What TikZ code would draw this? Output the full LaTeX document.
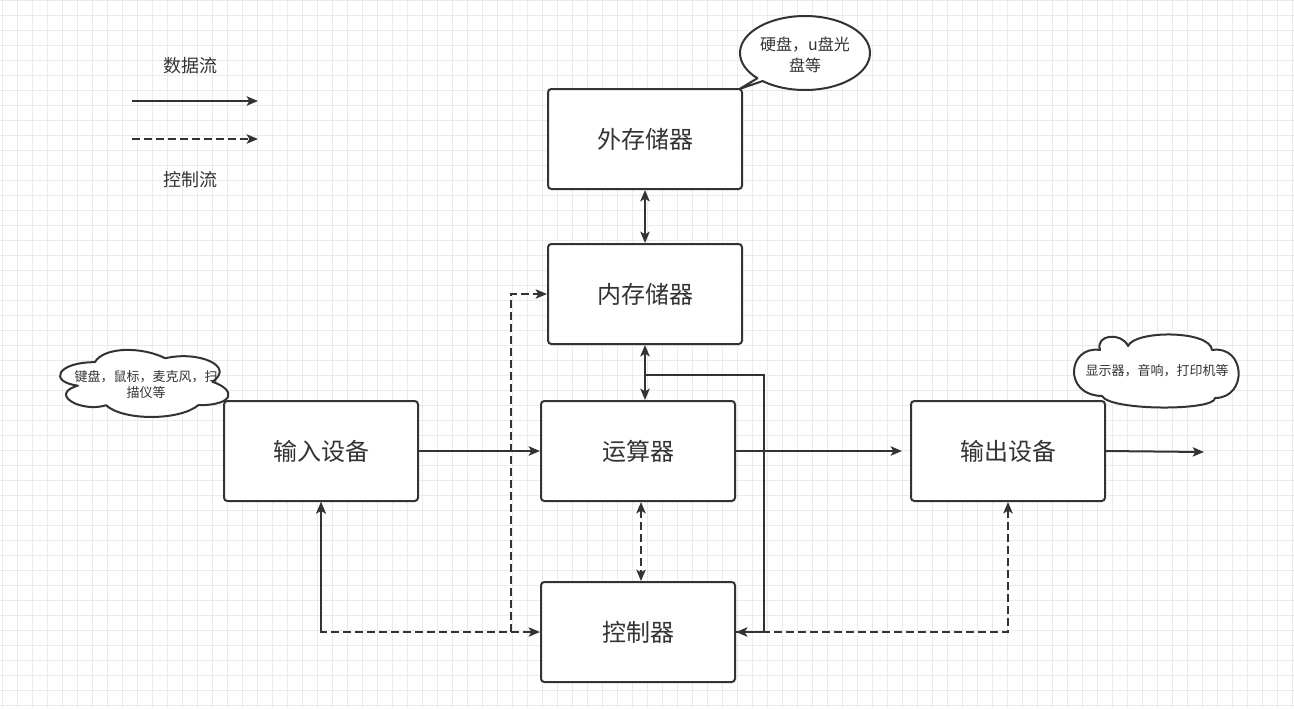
\documentclass[tikz,border=0pt]{standalone}
\usepackage{fontspec}
\newfontfamily\cjk{Noto Sans CJK SC}
\usetikzlibrary{arrows.meta,calc}
\definecolor{ln}{HTML}{333333}
\definecolor{gridc}{HTML}{EBEBEB}
\tikzset{
  x=0.75pt, y=-0.75pt,
  arrowtip/.tip={Stealth[length=8.5pt,width=7pt,inset=2pt]},
  box/.style={draw=ln, line width=1.5pt, rounded corners=2.5pt, fill=white,
    minimum width=145.5pt, minimum height=75pt, inner sep=0pt,
    font=\cjk\fontsize{18}{22}\selectfont, text=ln},
  conn/.style={draw=ln, line width=1.5pt},
  arr/.style={-{arrowtip}},
  darr/.style={{arrowtip}-{arrowtip}},
  dsh/.style={dash pattern=on 6pt off 3pt},
  lbl/.style={font=\cjk\fontsize{13.5}{16}\selectfont, text=ln, inner sep=0pt},
  cloudtxt/.style={font=\cjk\fontsize{9.75}{12}\selectfont, text=ln, inner sep=0pt, align=center},
  bubtxt/.style={font=\cjk\fontsize{12}{15.75}\selectfont, text=ln, inner sep=0pt, align=center},
  shapeline/.style={draw=ln, line width=1.5pt, fill=white, line join=round},
}
\begin{document}
\begin{tikzpicture}
\useasboundingbox (0,0) rectangle (1294,708);
\fill[white] (0,0) rectangle (1294,708);
\foreach \gx in {2.5,17.5,...,1294} \draw[gridc, line width=0.75pt] (\gx,0) -- (\gx,708);
\foreach \gy in {0.5,15.5,...,708} \draw[gridc, line width=0.75pt] (0,\gy) -- (1294,\gy);

% legend
\node[lbl] (t1) at (190,66) {数据流};
\coordinate (la) at (132,101);
\coordinate (lb) at (258,101);
\draw[conn,arr] (la) -- (lb);
\coordinate (lc) at (132,139);
\coordinate (ld) at (258,139);
\draw[conn,dsh,arr] (lc) -- (ld);
\node[lbl] (t2) at (190,180) {控制流};

% boxes
\node[box] (ext) at (645,139) {外存储器};
\node[box] (mem) at (645,294) {内存储器};
\node[box] (in) at (321,451) {输入设备};
\node[box] (alu) at (638,451) {运算器};
\node[box] (out) at (1008,451) {输出设备};
\node[box] (ctrl) at (638,632) {控制器};

% connectors
\coordinate (j1) at (645,375);
\coordinate (j2) at (764,632);
\coordinate (j3) at (511,632);
\coordinate (o1) at (1204,452);
\draw[conn,darr] (ext.south) -- (mem.north);
\draw[conn,darr] (mem.south) -- (mem.south |- alu.north);
\draw[conn] (ctrl.east) -- (j2) |- (j1);
\draw[conn,arr] (in.east) -- (alu.west);
\draw[conn,arr,shorten >=6pt] (alu.east) -- (out.west);
\draw[conn,arr] (out.east) -- (o1);
\draw[conn,dsh,darr] ([xshift=2.25pt]alu.south) -- ([xshift=2.25pt]ctrl.north);
\draw[conn,arr] (in.south |- ctrl.west) -- (in.south);
\draw[conn,dsh,darr] (in.south) |- (ctrl.west);
\draw[conn,dsh,arr] (j3) |- (mem.west);
\draw[conn,dsh,darr] (out.south) |- (ctrl.east);

% left cloud
\begin{scope}[shift={(47.8,342.6)}, x={(141pt,0pt)}, y={(0pt,-58.7pt)}]
\draw[shapeline] (0.25,0.25) .. controls (0.05,0.25) and (0,0.5) .. (0.16,0.55)
 .. controls (0,0.66) and (0.18,0.9) .. (0.31,0.8)
 .. controls (0.4,1) and (0.7,1) .. (0.8,0.8)
 .. controls (1,0.8) and (1,0.6) .. (0.875,0.5)
 .. controls (1,0.3) and (0.8,0.1) .. (0.625,0.2)
 .. controls (0.5,0.05) and (0.3,0.05) .. (0.25,0.25) -- cycle;
\end{scope}
\node[cloudtxt] (c1) at (146,384) {键盘，鼠标，麦克风，扫\\描仪等};

% right cloud
\draw[shapeline] (1100,350) .. controls (1068,345) and (1062,395) .. (1102,396)
 .. controls (1110,411) and (1215,411) .. (1215,398)
 .. controls (1248,398) and (1246,345) .. (1212,350)
 .. controls (1210,330) and (1135,330) .. (1128,346)
 .. controls (1122,332) and (1095,334) .. (1100,350) -- cycle;
\node[cloudtxt] (c2) at (1157,371) {显示器，音响，打印机等};

% speech bubble
\draw[shapeline] (762.6,81.05) arc[start angle=130.7, end angle=-223, x radius=65, y radius=37] -- (739.5,89) -- cycle;
\node[bubtxt] (b1) at (805,54.5) {硬盘，u盘光\\盘等};
\end{tikzpicture}
\end{document}
